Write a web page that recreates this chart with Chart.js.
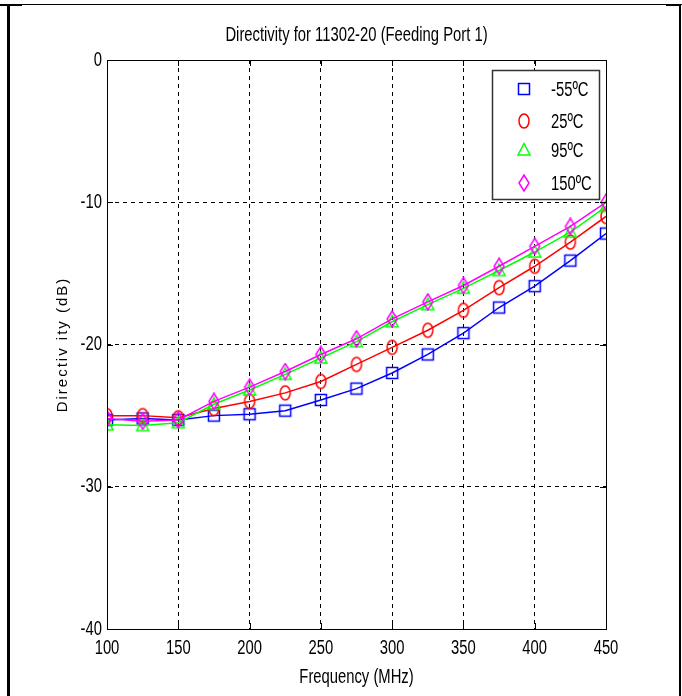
<!DOCTYPE html>
<html>
<head>
<meta charset="utf-8">
<script src="https://cdn.jsdelivr.net/npm/chart.js@4"></script>
<style>
  html, body { margin: 0; padding: 0; background: #fff; }
  #wrap { width: 682px; height: 696px; }
</style>
</head>
<body>
<div id="wrap"><canvas id="chart" width="682" height="696"></canvas></div>
<script>
// values
const frequencies = [100, 125, 150, 175, 200, 225, 250, 275, 300, 325, 350, 375, 400, 425, 450];
const tempLabels = ['-55ºC', '25ºC', '95ºC', '150ºC'];
const minus55 = [-25.3, -25.2, -25.3, -25.0, -24.9, -24.65, -23.9, -23.1, -22.0, -20.7, -19.2, -17.4, -15.9, -14.1, -12.2];
const plus25 = [-25.0, -25.0, -25.15, -24.5, -24.0, -23.4, -22.6, -21.4, -20.2, -19.0, -17.6, -16.0, -14.5, -12.8, -11.0];
const plus95 = [-25.65, -25.7, -25.5, -24.2, -23.2, -22.1, -20.95, -19.8, -18.4, -17.2, -16.05, -14.8, -13.5, -12.1, -10.3];
const plus150 = [-25.2, -25.4, -25.3, -24.0, -23.0, -21.9, -20.7, -19.6, -18.2, -17.0, -15.85, -14.5, -13.1, -11.7, -10.0];

const FONT = "'Liberation Sans', Arial, sans-serif";
const NARROW = 0.74; // squeeze to look like arial narrow

// hollow marker images, matlab style
function marker(kind, color) {
    const c = document.createElement('canvas');
    c.width = 16; c.height = 18;
    const g = c.getContext('2d');
    g.strokeStyle = color;
    g.lineWidth = 1.5;
    g.beginPath();
    if (kind === 'square') {
        g.rect(2.5, 3.5, 11, 11);
    } else if (kind === 'circle') {
        g.ellipse(8, 9, 5, 7, 0, 0, Math.PI * 2);
    } else if (kind === 'triangle') {
        g.moveTo(8, 2.5); g.lineTo(14, 14); g.lineTo(2, 14); g.closePath();
    } else {
        g.moveTo(8, 1); g.lineTo(13, 9); g.lineTo(8, 17); g.lineTo(3, 9); g.closePath();
    }
    g.stroke();
    return c;
}

const colors = ['#0000ff', '#ff0000', '#00ff00', '#ff00ff'];
const markers = [
    marker('square', colors[0]),
    marker('circle', colors[1]),
    marker('triangle', colors[2]),
    marker('diamond', colors[3])
];
const series = [minus55, plus25, plus95, plus150];

const datasets = series.map((vals, i) => ({
    label: tempLabels[i],
    data: frequencies.map((f, k) => ({x: f, y: vals[k]})),
    borderColor: colors[i],
    borderWidth: 1.5,
    pointStyle: markers[i],
    pointRadius: 6,
    tension: 0,
    order: 3 - i
}));

// narrow text helper
function narrowText(ctx, text, x, y, align) {
    ctx.save();
    ctx.translate(x, y);
    ctx.scale(NARROW, 1);
    ctx.textAlign = align;
    ctx.textBaseline = 'middle';
    ctx.fillText(text, 0, 0);
    ctx.restore();
}

const framePlugin = {
    id: 'frame',
    afterDraw(chart) {
        const ctx = chart.ctx;
        const a = chart.chartArea;
        const xs = chart.scales.x, ys = chart.scales.y;
        ctx.save();
        // axes box
        ctx.strokeStyle = '#000';
        ctx.lineWidth = 1;
        ctx.strokeRect(a.left + 0.5, a.top + 0.5, a.right - a.left, a.bottom - a.top);
        // inward ticks
        ctx.beginPath();
        xs.ticks.forEach(t => {
            const px = Math.round(xs.getPixelForValue(t.value)) + 0.5;
            ctx.moveTo(px, a.bottom); ctx.lineTo(px, a.bottom - 6);
            ctx.moveTo(px, a.top); ctx.lineTo(px, a.top + 6);
        });
        ys.ticks.forEach(t => {
            const py = Math.round(ys.getPixelForValue(t.value)) + 0.5;
            ctx.moveTo(a.left, py); ctx.lineTo(a.left + 6, py);
            ctx.moveTo(a.right, py); ctx.lineTo(a.right - 6, py);
        });
        ctx.stroke();

        ctx.fillStyle = '#000';
        ctx.font = '20px ' + FONT;
        // tick labels
        xs.ticks.forEach(t => {
            narrowText(ctx, String(t.value), xs.getPixelForValue(t.value), a.bottom + 19, 'center');
        });
        ys.ticks.forEach(t => {
            narrowText(ctx, String(t.value), a.left - 5, ys.getPixelForValue(t.value), 'right');
        });

        // title and x axis title
        narrowText(ctx, 'Directivity for 11302-20 (Feeding Port 1)', (a.left + a.right) / 2, 35, 'center');
        narrowText(ctx, 'Frequency (MHz)', (a.left + a.right) / 2, 677, 'center');

        // y axis title
        ctx.save();
        ctx.translate(63, (a.top + a.bottom) / 2);
        ctx.rotate(-Math.PI / 2);
        ctx.font = '15px ' + FONT;
        ctx.letterSpacing = '2px';
        ctx.textAlign = 'center';
        ctx.textBaseline = 'middle';
        ctx.fillText('Directiv ity (dB)', 0, 0);
        ctx.restore();

        // legend box
        const lx = 492, ly = 70, lw = 107, lh = 129;
        ctx.fillStyle = '#fff';
        ctx.fillRect(lx, ly, lw, lh);
        ctx.strokeStyle = '#333';
        ctx.lineWidth = 1.5;
        ctx.strokeRect(lx + 0.5, ly + 0.5, lw, lh);
        const rows = [89, 121, 150, 183];
        ctx.fillStyle = '#000';
        ctx.font = '20px ' + FONT;
        rows.forEach((ry, i) => {
            ctx.drawImage(markers[i], 524 - 8, ry - 9);
            narrowText(ctx, tempLabels[i], 551, ry + 1, 'left');
        });

        // page border
        ctx.lineWidth = 1;
        ctx.strokeStyle = '#000';
        ctx.beginPath();
        ctx.moveTo(0, 4.5); ctx.lineTo(682, 4.5);
        ctx.stroke();
        ctx.fillRect(0, 4, 22, 2);
        ctx.fillRect(666, 4, 14, 2);
        ctx.fillRect(7, 4, 3, 692);
        ctx.fillRect(679, 4, 2, 692);
        ctx.restore();
    }
};

new Chart(document.getElementById('chart'), {
    type: 'line',
    data: {datasets: datasets},
    options: {
        responsive: false,
        animation: false,
        layout: {padding: {left: 0, right: 76, top: 60, bottom: 0}},
        plugins: {
            legend: {display: false},
            title: {display: false},
            tooltip: {enabled: false}
        },
        scales: {
            x: {
                type: 'linear',
                min: 100,
                max: 450,
                afterFit: s => { s.height = 67; },
                ticks: {stepSize: 50, display: false},
                grid: {color: '#000', lineWidth: 1, drawTicks: false},
                border: {display: false, dash: [4, 4]}
            },
            y: {
                min: -40,
                max: 0,
                afterFit: s => { s.width = 107; },
                ticks: {stepSize: 10, display: false},
                grid: {color: '#000', lineWidth: 1, drawTicks: false},
                border: {display: false, dash: [4, 4]}
            }
        }
    },
    plugins: [framePlugin]
});
</script>
</body>
</html>
